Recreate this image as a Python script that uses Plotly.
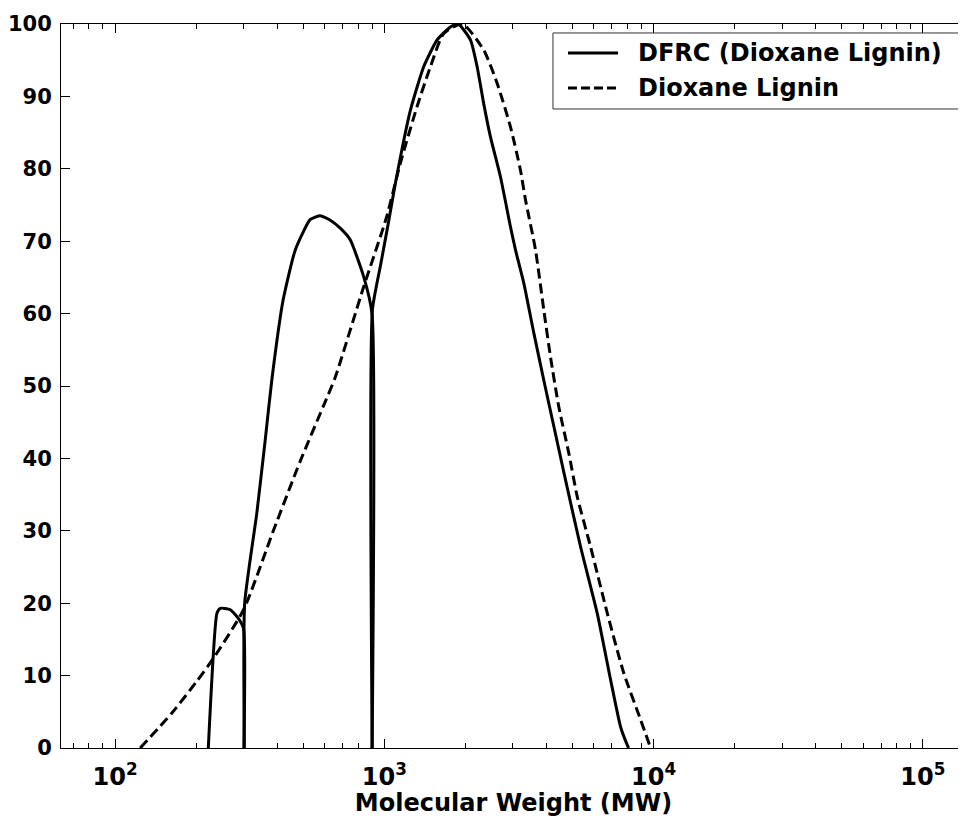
import plotly.graph_objects as go

# DFRC (Dioxane Lignin) - solid curve, three fractions (MW, relative intensity)
mw_dfrc_1 = [222, 239, 246, 268, 287, 300, 301]
val_dfrc_1 = [0, 18.6, 19.3, 19.1, 17.9, 16.5, 0]
mw_dfrc_2 = [302, 303, 336, 361, 382, 421, 467, 531, 578, 630, 686, 747, 838, 900, 901]
val_dfrc_2 = [0, 20.0, 32.4, 42.5, 50.8, 61.9, 68.8, 73.0, 73.5, 72.9, 71.8, 70.2, 65.1, 60.0, 0]
mw_dfrc_3 = [901, 903, 966, 1035, 1099, 1250, 1400, 1570, 1760, 1884, 2088, 2211, 2339,
             2478, 2699, 2940, 3069, 3295, 3591, 3910, 4261, 4709, 5354, 6175, 6923, 7541,
             7986, 8080]
val_dfrc_3 = [0, 60.5, 66.5, 72.5, 78.0, 88.1, 94.1, 97.8, 99.6, 100, 97.8, 94.1, 89.0,
              84.4, 78.9, 72.0, 68.8, 64.2, 57.3, 50.8, 44.4, 37.0, 27.8, 18.6, 9.4, 2.9,
              0.4, 0]

# Dioxane Lignin - dashed curve
mw_diox = [124, 164, 201, 232, 300, 388, 487, 595, 657, 838, 1017, 1147, 1323, 1483,
           1662, 1950, 2339, 2624, 2940, 3203, 3344, 3642, 3910, 4141, 4446, 4844, 5205,
           5832, 6730, 7755, 8947, 9746]
val_diox = [0, 5.0, 9.2, 12.4, 19.1, 30.1, 39.6, 47.3, 51.2, 63.7, 73.2, 80.8, 88.6, 94.1,
            98.7, 100, 96.4, 91.8, 85.8, 79.8, 75.7, 68.8, 60.5, 54.0, 47.1, 40.7, 34.7,
            27.8, 18.6, 10.3, 3.9, 0]

series_names = ["DFRC (Dioxane Lignin)", "Dioxane Lignin"]
x_major = [100, 1000, 10000, 100000]
x_major_text = ["10<sup>2</sup>", "10<sup>3</sup>", "10<sup>4</sup>", "10<sup>5</sup>"]
x_minor = [k * 10 ** n for n in range(1, 6) for k in range(2, 10)]
x_title = "Molecular Weight (MW)"

FONT = "DejaVu Sans"

fig = go.Figure()
for xs, ys in [(mw_dfrc_1, val_dfrc_1), (mw_dfrc_2, val_dfrc_2), (mw_dfrc_3, val_dfrc_3)]:
    fig.add_trace(go.Scatter(x=xs, y=ys, mode="lines", name=series_names[0],
                             line=dict(color="black", width=3, shape="spline", smoothing=0.5)))
fig.add_trace(go.Scatter(x=mw_diox, y=val_diox, mode="lines", name=series_names[1],
                         line=dict(color="black", width=3, dash="10px,5px",
                                   shape="spline", smoothing=0.6)))

fig.update_layout(
    width=958, height=809,
    margin=dict(l=53, r=0, t=16, b=69),
    paper_bgcolor="white", plot_bgcolor="white",
    showlegend=False,
    xaxis=dict(
        type="log", range=[1.7993, 5.160],
        tickmode="array", tickvals=x_major, ticktext=x_major_text,
        ticks="inside", ticklen=9, tickwidth=1, tickcolor="black",
        showline=True, linecolor="black", linewidth=1, mirror="ticks",
        showgrid=False, zeroline=False,
        minor=dict(tickmode="array", tickvals=x_minor, ticks="inside", ticklen=5,
                   tickwidth=1, tickcolor="black", showgrid=False),
        tickfont=dict(family=FONT, size=24, color="black", weight="bold"),
        ticklabelstandoff=7,
        title=dict(text=x_title, font=dict(family=FONT, size=24, color="black", weight="bold"),
                   standoff=7),
    ),
    yaxis=dict(
        range=[0, 100], tickmode="linear", tick0=0, dtick=10,
        ticks="inside", ticklen=9, tickwidth=1, tickcolor="black",
        showline=True, linecolor="black", linewidth=1, mirror=False,
        showgrid=False, zeroline=False,
        tickfont=dict(family=FONT, size=21, color="black", weight="bold"),
        ticklabelstandoff=4,
    ),
)

# legend box drawn manually (MATLAB style)
fig.add_shape(type="rect", xref="paper", yref="paper", x0=0.5436, x1=0.9967, y0=0.8826, y1=0.9876,
              line=dict(color="#333333", width=1), fillcolor="white")
fig.add_shape(type="line", xref="paper", yref="paper", x0=0.5602, x1=0.6155, y0=0.9599, y1=0.9599,
              line=dict(color="black", width=3))
fig.add_shape(type="line", xref="paper", yref="paper", x0=0.5602, x1=0.6155, y0=0.9116, y1=0.9116,
              line=dict(color="black", width=3, dash="9px,4px"))
for name, yy in zip(series_names, [0.9599, 0.9116]):
    fig.add_annotation(xref="paper", yref="paper", x=0.6354, y=yy, text=name, showarrow=False,
                       xanchor="left", yanchor="middle",
                       font=dict(family=FONT, size=24, color="black", weight="bold"))

fig.write_html("out.html")
